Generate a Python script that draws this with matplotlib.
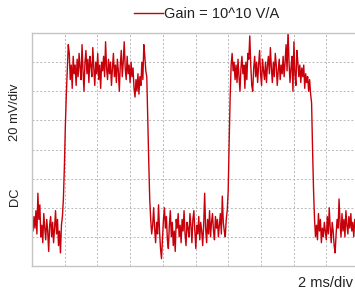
import numpy as np
import matplotlib
matplotlib.use("Agg")
import matplotlib.pyplot as plt

plt.rcParams['font.family'] = ['Liberation Sans', 'DejaVu Sans']
plt.rcParams['text.color'] = '#222222'

# scope trace, in divisions (8 vertical divs), one sample every 0.03 div
dt = 0.03
low1 = [1.5, 1.2, 1.7, 1.3, 1.9, 1.1, 2.5, 1.6, 2.1, 1.0,
        1.4, 0.8, 1.8, 1.3, 0.9, 1.6, 1.2, 0.5, 1.4, 1.7,
        1.0, 1.5, 0.8, 1.3, 1.9, 1.1, 1.6, 0.7, 1.2, 0.45,
        1.4, 1.7]
rise1 = [2.3, 3.4, 4.8, 5.9, 6.8, 7.6]
high1 = [7.3, 6.4, 6.9, 6.1, 7.2, 6.6, 6.9, 6.2, 7.1, 6.5,
         7.3, 6.8, 6.4, 7.6, 6.7, 6.0, 7.0, 7.4, 6.6, 7.1,
         6.3, 7.2, 6.9, 6.5, 7.5, 6.8, 6.2, 7.0, 6.6, 7.3,
         6.4, 6.9, 6.1, 7.0, 6.7, 7.2, 6.5, 7.7, 6.8, 6.4,
         7.1, 6.6, 7.0, 6.2, 6.8, 7.3, 6.5, 6.9, 6.3, 7.1,
         6.7, 6.0, 6.9, 7.4, 6.5, 7.0, 7.7, 6.8, 6.4, 7.2,
         6.6, 6.9, 6.3, 7.0, 6.5, 6.8, 6.1, 5.8, 6.4, 6.0,
         6.6, 5.9, 6.5, 6.2, 7.0, 6.4, 7.6, 7.2, 6.7]
fall1 = [6.5, 5.0, 3.6, 2.3, 1.6, 1.1]
low2 = [1.4, 2.0, 1.3, 0.8, 1.5, 1.1, 2.1, 1.2, 0.6, 0.25,
        0.9, 1.6, 2.0, 1.3, 1.7, 0.9, 0.6, 1.4, 1.9, 1.0,
        1.5, 0.7, 1.2, 0.5, 1.6, 1.3, 1.8, 1.0, 1.4, 0.8,
        1.6, 1.2, 1.9, 1.1, 0.7, 1.5, 1.3, 1.0, 1.8, 1.4,
        0.8, 1.6, 1.9, 1.2, 0.6, 1.4, 1.1, 1.7, 0.9, 1.5,
        1.2, 0.7, 1.4, 2.5, 1.3, 0.8, 1.6, 1.1, 1.9, 1.0,
        1.5, 1.8, 1.2, 0.9, 1.7, 1.3, 1.6, 1.0, 1.4, 1.8,
        1.1, 2.4, 1.5, 1.2, 1.0, 1.6, 1.9]
rise2 = [2.6, 4.3, 5.8, 6.9, 7.3]
high2 = [6.7, 7.0, 6.4, 6.9, 6.3, 7.1, 6.5, 6.0, 6.8, 7.2,
         6.6, 6.9, 6.1, 7.0, 6.4, 7.3, 7.1, 7.9, 6.9, 6.2,
         6.0, 6.8, 7.2, 6.5, 7.0, 6.3, 6.9, 7.4, 6.6, 6.2,
         7.1, 6.7, 6.4, 7.0, 6.3, 6.9, 7.2, 6.6, 7.5, 6.8,
         6.3, 7.0, 6.5, 7.3, 6.9, 6.2, 6.7, 7.1, 6.4, 6.9,
         6.6, 7.2, 6.5, 7.0, 7.6, 6.7, 8.1, 7.0, 6.3, 6.8,
         7.2, 6.0, 7.7, 6.6, 6.2, 7.4, 7.0, 6.5, 6.9, 6.3,
         6.8, 6.5, 6.9, 6.1, 6.6, 6.3, 6.5, 6.0, 6.4, 5.9]
fall2 = [5.6, 4.0, 2.6, 1.6, 1.0]
low3 = [1.4, 0.9, 1.8, 1.2, 1.6, 0.8, 1.3, 1.0, 1.5, 1.2,
        0.9, 1.7, 1.1, 2.0, 1.3, 0.8, 1.5, 1.2, 0.7, 0.45,
        1.1, 1.6, 1.3, 2.3, 1.5, 1.0, 1.8, 1.2, 1.6, 1.0,
        1.9, 1.4, 1.1, 1.7, 1.3, 1.8, 1.2, 1.5, 1.0, 1.6,
        1.3, 1.7, 1.2, 1.5]

trace = np.array(low1 + rise1 + high1 + fall1 + low2 + rise2 + high2 + fall2 + low3)
t = np.arange(len(trace)) * dt

fig = plt.figure(figsize=(3.55, 2.93), dpi=100)
ax = fig.add_axes([32 / 355, 27 / 293, 327 / 355, 233 / 293])

ax.plot(t, trace, color='#c8000a', lw=1.0, label='Gain = 10^10 V/A')

ax.set_xlim(0, 10)
ax.set_ylim(0, 8)
ax.set_xticks(np.arange(0, 11, 1))
ax.set_yticks(np.arange(0, 9, 1))
ax.tick_params(length=0, labelbottom=False, labelleft=False)
ax.grid(True, color='#b8b8b8', linestyle=(0, (2, 2)), lw=0.7)
for s in ax.spines.values():
    s.set_color('#c4c4c4')
    s.set_linewidth(1.0)

ax.legend(loc='center', bbox_to_anchor=(0.534, 1 + 19 / 233), frameon=False,
          fontsize=10.5, handlelength=2.0, handletextpad=0.05, borderpad=0)

fig.text(15 / 355, 1 - 112 / 293, '20 mV/div', rotation=90, ha='center', va='center', fontsize=9.3)
fig.text(15 / 355, 1 - 197 / 293, 'DC', rotation=90, ha='center', va='center', fontsize=9.3)
fig.text(353 / 355, 1 - 283 / 293, '2 ms/div', ha='right', va='center', fontsize=10.5)

fig.savefig('out.png', dpi=100)
